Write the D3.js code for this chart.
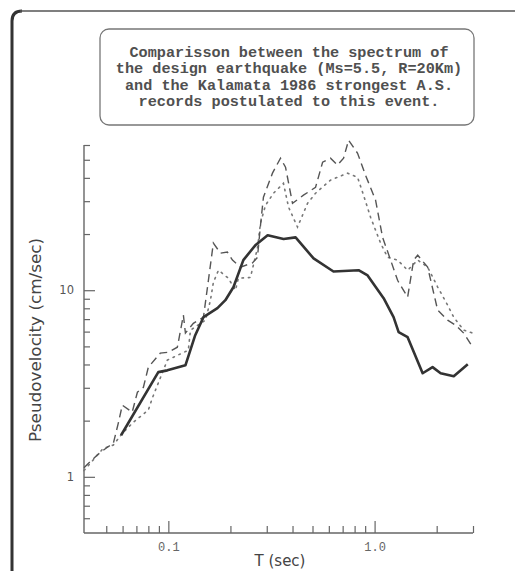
<!DOCTYPE html>
<html>
<head>
<meta charset="utf-8">
<script src="https://cdn.jsdelivr.net/npm/d3@7"></script>
<style>
  html, body { margin: 0; padding: 0; background: #fff; }
  svg { display: block; }
</style>
</head>
<body>
<svg id="chart" width="515" height="571"></svg>
<script>
// ---- Data (period T in sec, pseudovelocity in cm/sec) ----
const titleLines = [
  "Comparisson between the spectrum of",
  "the design earthquake (Ms=5.5, R=20Km)",
  "and the Kalamata 1986 strongest A.S.",
  "records postulated to this event."
];
const xLabel = "T (sec)";
const yLabel = "Pseudovelocity (cm/sec)";

const designT = [0.059, 0.0894, 0.0989, 0.121, 0.135, 0.148, 0.173, 0.189, 0.207, 0.231, 0.264, 0.303, 0.362, 0.414, 0.506, 0.632, 0.836, 0.925, 1.106, 1.236, 1.308, 1.446, 1.71, 1.91, 2.09, 2.42, 2.83];
const designV = [1.67, 3.64, 3.72, 3.96, 5.74, 7.17, 8.01, 8.84, 10.4, 14.5, 17.4, 19.7, 18.8, 19.2, 14.8, 12.6, 12.8, 12.0, 9.06, 7.17, 5.96, 5.60, 3.59, 3.87, 3.59, 3.46, 4.01];

const recordAT = [0.039, 0.0452, 0.0506, 0.0541, 0.0572, 0.0598, 0.0668, 0.0708, 0.0757, 0.080, 0.0914, 0.100, 0.1106, 0.1183, 0.121, 0.1322, 0.148, 0.1564, 0.1653, 0.1788, 0.1933, 0.2046, 0.2237, 0.2558, 0.2704, 0.2798, 0.2891, 0.3198, 0.3498, 0.370, 0.400, 0.452, 0.5173, 0.5597, 0.6113, 0.661, 0.7073, 0.748, 0.827, 0.904, 1.011, 1.093, 1.196, 1.293, 1.446, 1.547, 1.618, 1.808, 2.022, 2.26, 2.472, 2.704, 2.99];
const recordAV = [1.12, 1.31, 1.44, 1.51, 1.94, 2.42, 2.22, 2.84, 3.02, 3.87, 4.60, 4.65, 4.95, 7.35, 5.89, 6.65, 7.17, 11.3, 17.9, 15.8, 16.0, 14.5, 13.3, 14.0, 15.0, 22.3, 31.5, 42.4, 51.0, 45.6, 29.2, 32.3, 35.6, 48.5, 51.0, 46.8, 51.0, 63.7, 54.2, 41.3, 30.4, 19.2, 14.5, 11.3, 9.17, 14.5, 15.4, 13.3, 7.82, 6.91, 6.49, 5.89, 4.95];

const recordBT = [0.039, 0.0432, 0.0483, 0.0541, 0.0598, 0.0676, 0.080, 0.0836, 0.0989, 0.125, 0.128, 0.1514, 0.160, 0.1653, 0.175, 0.1954, 0.2115, 0.2187, 0.250, 0.2704, 0.2798, 0.2958, 0.3235, 0.3615, 0.3826, 0.4228, 0.473, 0.5173, 0.6113, 0.7396, 0.827, 0.884, 0.956, 1.069, 1.156, 1.293, 1.446, 1.618, 1.808, 2.022, 2.26, 2.418, 2.704, 2.99];
const recordBV = [1.08, 1.23, 1.42, 1.48, 1.71, 1.96, 2.28, 2.64, 4.22, 4.77, 6.11, 6.91, 8.84, 11.0, 12.8, 11.6, 10.0, 11.6, 11.7, 16.8, 22.9, 28.5, 33.1, 37.4, 27.9, 21.8, 29.2, 33.1, 38.9, 42.4, 40.3, 32.3, 24.6, 17.9, 15.0, 14.5, 12.8, 14.5, 13.3, 10.4, 8.32, 7.17, 6.11, 5.89];

const xMajorTicks = [0.1, 1];
const xMajorLabels = ["0.1", "1.0"];
const xMinorTicks = [0.05, 0.06, 0.07, 0.08, 0.09, 0.2, 0.3, 0.4, 0.5, 0.6, 0.7, 0.8, 0.9, 2, 3];
const yMajorTicks = [1, 10];
const yMajorLabels = ["1", "10"];
const yMinorTicks = [0.6, 0.7, 0.8, 0.9, 2, 3, 4, 5, 6, 7, 8, 9, 20, 30, 40, 50, 60];

// ---- Drawing ----
const svg = d3.select("#chart");

const x = d3.scaleLog().domain([0.039, 3]).range([84, 473]);
const y = d3.scaleLog().domain([0.5, 60]).range([533, 145]);

// outer frame
svg.append("path")
  .attr("d", "M12,571 L12,21 Q12,11 22,11")
  .attr("fill", "none").attr("stroke", "#333").attr("stroke-width", 3);
svg.append("path")
  .attr("d", "M20,11 L515,11")
  .attr("fill", "none").attr("stroke", "#555").attr("stroke-width", 1.6);

// title box
svg.append("rect")
  .attr("x", 100).attr("y", 29).attr("width", 374).attr("height", 96)
  .attr("rx", 9).attr("ry", 9)
  .attr("fill", "none").attr("stroke", "#777").attr("stroke-width", 1.3);
svg.append("g").selectAll("text").data(titleLines).join("text")
  .attr("x", 289).attr("y", (d, i) => 57 + i * 16.4)
  .attr("text-anchor", "middle")
  .attr("font-family", "'Liberation Mono', 'DejaVu Sans Mono', monospace")
  .attr("font-size", 15.2).attr("font-weight", "bold")
  .attr("fill", "#505050")
  .text(d => d);

// axes
const axisColor = "#666";
function styleAxis(g) {
  g.select(".domain").remove();
  g.selectAll(".tick line").attr("stroke", axisColor).attr("stroke-width", 1.2);
}
// x minor
svg.append("g").attr("transform", "translate(0,533)")
  .call(d3.axisBottom(x).tickValues(xMinorTicks).tickSize(-7).tickFormat(""))
  .call(styleAxis);
// x major
const gxM = svg.append("g").attr("transform", "translate(0,533)")
  .call(d3.axisBottom(x).tickValues(xMajorTicks).tickSize(-12)
    .tickFormat((d, i) => xMajorLabels[i]))
  .call(styleAxis);
gxM.selectAll(".tick text")
  .attr("font-family", "'Liberation Mono', monospace").attr("font-size", 12)
  .attr("fill", "#666").attr("y", 9);

// y minor
svg.append("g").attr("transform", "translate(84,0)")
  .call(d3.axisLeft(y).tickValues(yMinorTicks).tickSize(-6).tickFormat(""))
  .call(styleAxis);
// y major
const gyM = svg.append("g").attr("transform", "translate(84,0)")
  .call(d3.axisLeft(y).tickValues(yMajorTicks).tickSize(-11)
    .tickFormat((d, i) => yMajorLabels[i]))
  .call(styleAxis);
gyM.selectAll(".tick text")
  .attr("font-family", "'DejaVu Sans', sans-serif").attr("font-size", 11.5)
  .attr("fill", "#555").attr("x", -10);

// axis lines
svg.append("line").attr("x1", 84).attr("x2", 84).attr("y1", 145).attr("y2", 533)
  .attr("stroke", axisColor).attr("stroke-width", 1.4);
svg.append("line").attr("x1", 84).attr("x2", 473).attr("y1", 533).attr("y2", 533)
  .attr("stroke", axisColor).attr("stroke-width", 1.4);

// axis titles
svg.append("text")
  .attr("transform", "translate(41,340) rotate(-90)")
  .attr("text-anchor", "middle")
  .attr("font-family", "'DejaVu Sans', sans-serif").attr("font-size", 16.5)
  .attr("fill", "#444")
  .attr("textLength", 204).attr("lengthAdjust", "spacingAndGlyphs")
  .text(yLabel);
svg.append("text")
  .attr("x", 280).attr("y", 566)
  .attr("text-anchor", "middle")
  .attr("font-family", "'DejaVu Sans', sans-serif").attr("font-size", 15)
  .attr("fill", "#444")
  .text(xLabel);

// series
const line = d3.line().x(d => x(d[0])).y(d => y(d[1]));
const zip = (a, b) => a.map((t, i) => [t, b[i]]);

svg.append("path").datum(zip(recordBT, recordBV))
  .attr("d", line).attr("fill", "none")
  .attr("stroke", "#777").attr("stroke-width", 1.6)
  .attr("stroke-dasharray", "1.5,5").attr("stroke-linecap", "round");
svg.append("path").datum(zip(recordAT, recordAV))
  .attr("d", line).attr("fill", "none")
  .attr("stroke", "#555").attr("stroke-width", 1.4)
  .attr("stroke-dasharray", "8,5");
svg.append("path").datum(zip(designT, designV))
  .attr("d", line).attr("fill", "none")
  .attr("stroke", "#333").attr("stroke-width", 2.6)
  .attr("stroke-linejoin", "round");
</script>
</body>
</html>
